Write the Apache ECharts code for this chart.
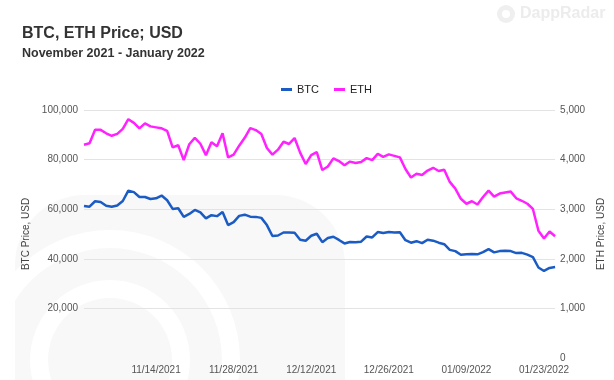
<!DOCTYPE html>
<html>
<head>
<meta charset="utf-8">
<script src="https://cdn.jsdelivr.net/npm/echarts@6/dist/echarts.min.js"></script>
<style>
html,body{margin:0;padding:0;background:#fff;}
#chart{width:614px;height:380px;}
</style>
</head>
<body>
<div id="chart"></div>
<script>
const dates = [
"11/01/2021","11/02/2021","11/03/2021","11/04/2021","11/05/2021","11/06/2021","11/07/2021","11/08/2021","11/09/2021","11/10/2021",
"11/11/2021","11/12/2021","11/13/2021","11/14/2021","11/15/2021","11/16/2021","11/17/2021","11/18/2021","11/19/2021","11/20/2021",
"11/21/2021","11/22/2021","11/23/2021","11/24/2021","11/25/2021","11/26/2021","11/27/2021","11/28/2021","11/29/2021","11/30/2021",
"12/01/2021","12/02/2021","12/03/2021","12/04/2021","12/05/2021","12/06/2021","12/07/2021","12/08/2021","12/09/2021","12/10/2021",
"12/11/2021","12/12/2021","12/13/2021","12/14/2021","12/15/2021","12/16/2021","12/17/2021","12/18/2021","12/19/2021","12/20/2021",
"12/21/2021","12/22/2021","12/23/2021","12/24/2021","12/25/2021","12/26/2021","12/27/2021","12/28/2021","12/29/2021","12/30/2021",
"12/31/2021","01/01/2022","01/02/2022","01/03/2022","01/04/2022","01/05/2022","01/06/2022","01/07/2022","01/08/2022","01/09/2022",
"01/10/2022","01/11/2022","01/12/2022","01/13/2022","01/14/2022","01/15/2022","01/16/2022","01/17/2022","01/18/2022","01/19/2022",
"01/20/2022","01/21/2022","01/22/2022","01/23/2022","01/24/2022","01/25/2022"
];
const labeledDates = ["11/14/2021","11/28/2021","12/12/2021","12/26/2021","01/09/2022","01/23/2022"];

const btc = [
61300,61000,63200,62900,61400,61000,61500,63300,67500,66900,
64900,64900,64100,64400,65500,63600,60100,60400,56900,58100,
59700,58700,56300,57600,57200,58900,53600,54800,57300,57800,
57000,56900,56500,53600,49200,49400,50600,50600,50500,47700,
47300,49300,50100,46700,48400,48900,47600,46200,46800,46700,
46900,49000,48600,50800,50400,50800,50600,50700,47500,46500,
47100,46300,47700,47300,46500,45900,43600,43100,41600,41800,
41900,41800,42700,43900,42600,43100,43200,43100,42300,42400,
41700,40700,36500,35100,36300,36700
];
const eth = [
4300,4330,4600,4600,4530,4480,4520,4620,4815,4740,
4630,4730,4670,4650,4630,4580,4245,4290,3990,4310,
4440,4320,4090,4350,4270,4530,4045,4100,4280,4440,
4635,4595,4515,4235,4100,4200,4360,4315,4435,4140,
3910,4090,4150,3790,3860,4025,3970,3885,3960,3930,
3950,4030,3990,4115,4055,4105,4075,4045,3810,3640,
3715,3690,3780,3835,3770,3795,3550,3415,3210,3110,
3160,3095,3245,3375,3255,3315,3335,3355,3220,3170,
3110,3005,2565,2410,2550,2455
];

const FONT = '"Liberation Sans", Arial, sans-serif';
const fmt = v => v.toLocaleString('en-US');
const chart = echarts.init(document.getElementById('chart'), null, {renderer:'canvas'});
chart.setOption({
  animation:false,
  backgroundColor:'#ffffff',
  textStyle:{fontFamily:FONT},
  graphic:[
    {type:'rect', z:-10, silent:true, shape:{x:15, y:195, width:330, height:260, r:70}, style:{fill:'#f8f8f8'}},
    {type:'ring', z:-9, silent:true, shape:{cx:110, cy:360, r:130, r0:112}, style:{fill:'#ffffff'}},
    {type:'ring', z:-9, silent:true, shape:{cx:110, cy:360, r:80, r0:62}, style:{fill:'#ffffff'}},
    {type:'circle', z:-10, silent:true, shape:{cx:506, cy:14, r:9}, style:{fill:'#efefef'}},
    {type:'circle', z:-9, silent:true, shape:{cx:506, cy:14, r:4}, style:{fill:'#ffffff'}}
  ],
  title:[
    {text:'BTC, ETH Price; USD', left:22, top:26, padding:0, textStyle:{fontSize:16, fontWeight:'bold', color:'#333', fontFamily:FONT}},
    {text:'November 2021 - January 2022', left:22, top:47, padding:0, textStyle:{fontSize:12.5, fontWeight:'bold', color:'#333', fontFamily:FONT}},
    {text:'DappRadar', left:520, top:6, padding:0, textStyle:{fontSize:16, fontWeight:'bold', color:'#ececec', fontFamily:FONT}}
  ],
  legend:{
    top:79, left:276,
    itemWidth:11, itemHeight:3, itemGap:15,
    icon:'rect',
    textStyle:{fontSize:11, color:'#222', fontFamily:FONT},
    data:['BTC','ETH']
  },
  grid:{left:84, right:55, top:110, bottom:22, containLabel:false},
  xAxis:{
    type:'category',
    data:dates,
    boundaryGap:false,
    axisLine:{show:false},
    axisTick:{show:false},
    splitLine:{show:false},
    axisLabel:{
      color:'#555', fontSize:10, margin:7, fontFamily:FONT,
      interval:(i, v) => labeledDates.indexOf(v) >= 0
    }
  },
  yAxis:[
    {
      type:'value', min:0, max:100000, interval:20000, position:'left',
      name:'BTC Price, USD', nameLocation:'middle', nameGap:50, nameRotate:90,
      nameTextStyle:{fontSize:10, color:'#444', fontFamily:FONT},
      axisLine:{show:false}, axisTick:{show:false},
      axisLabel:{color:'#555', fontSize:10, margin:6, fontFamily:FONT, formatter:v => v === 0 ? '' : fmt(v)},
      splitLine:{show:true, showMinLine:false, lineStyle:{color:'#e3e3e3', width:1}}
    },
    {
      type:'value', min:0, max:5000, interval:1000, position:'right',
      name:'ETH Price, USD', nameLocation:'middle', nameGap:37, nameRotate:90,
      nameTextStyle:{fontSize:10, color:'#444', fontFamily:FONT},
      axisLine:{show:false}, axisTick:{show:false},
      axisLabel:{color:'#555', fontSize:10, margin:5, fontFamily:FONT, formatter:v => fmt(v)},
      splitLine:{show:false}
    }
  ],
  series:[
    {name:'BTC', type:'line', yAxisIndex:0, data:btc, showSymbol:false, symbol:'none',
     lineStyle:{color:'#1a5bc4', width:2.5}, itemStyle:{color:'#1a5bc4'}},
    {name:'ETH', type:'line', yAxisIndex:1, data:eth, showSymbol:false, symbol:'none',
     lineStyle:{color:'#ff22ff', width:2.5}, itemStyle:{color:'#ff22ff'}}
  ]
});
</script>
</body>
</html>
